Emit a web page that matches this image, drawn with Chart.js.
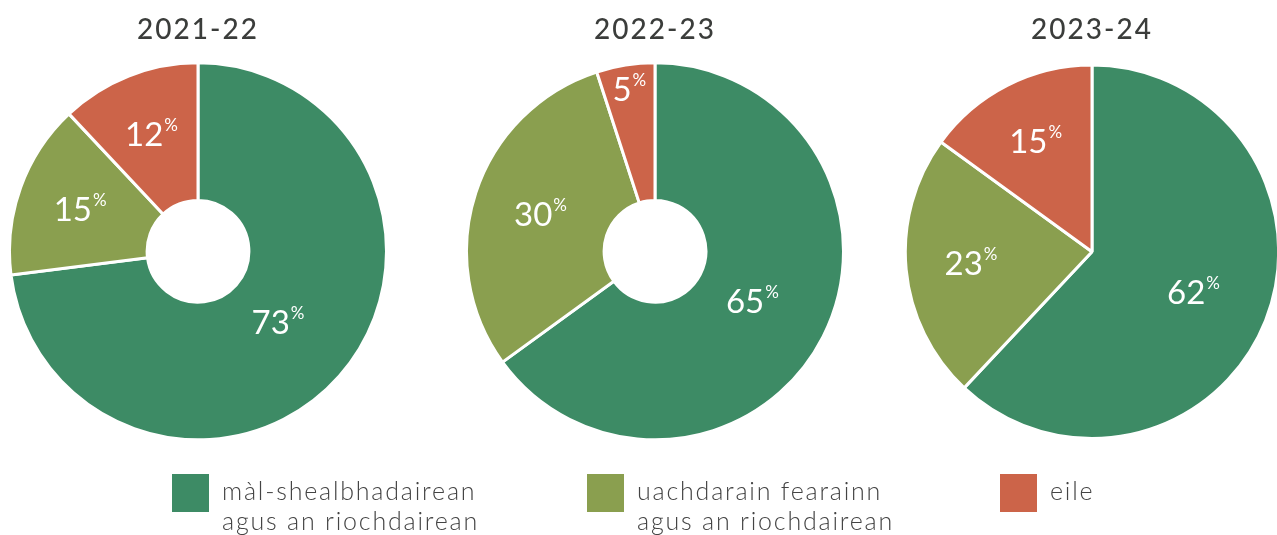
<!DOCTYPE html>
<html>
<head>
<meta charset="utf-8">
<script src="https://cdn.jsdelivr.net/npm/chart.js@4/dist/chart.umd.min.js"></script>
<style>
  html, body { margin:0; padding:0; background:#ffffff; width:1277px; height:535px; overflow:hidden; }
  .box { position:absolute; top:0; width:380px; height:442px; }
  .legend { position:absolute; top:0; left:0; width:1277px; height:535px; pointer-events:none;
            font-family:"Lato","Open Sans",sans-serif; font-weight:300; font-size:25px; color:#444444; }
  .sw { position:absolute; width:37px; height:38px; }
  .lt { position:absolute; line-height:30px; white-space:nowrap; letter-spacing:1.8px; }
</style>
</head>
<body>
<div class="box" id="b0" style="left:8px"><canvas id="c0"></canvas></div>
<div class="box" id="b1" style="left:465px"><canvas id="c1"></canvas></div>
<div class="box" id="b2" style="left:902px"><canvas id="c2"></canvas></div>
<div class="legend" id="legend"></div>
<script>
// ---- data ----
const periods = ["2021-22", "2022-23", "2023-24"];
const categories = [
  ["màl-shealbhadairean", "agus an riochdairean"],
  ["uachdarain fearainn", "agus an riochdairean"],
  ["eile"]
];
const values2122 = [73, 15, 12];
const values2223 = [65, 30, 5];
const values2324 = [62, 23, 15];
const colours = ["#3d8b65", "#8a9f4f", "#cc6449"];
const cutouts = ["27%", "27%", "0%"];

const allValues = [values2122, values2223, values2324];

const spacingPlugin = {
  id: 'titleSpacing',
  beforeDraw(chart) { chart.ctx.letterSpacing = '2px'; },
  beforeDatasetsDraw(chart) { chart.ctx.letterSpacing = '0px'; }
};

const labelPlugin = {
  id: 'sliceLabels',
  afterDatasetsDraw(chart) {
    const ctx = chart.ctx;
    const meta = chart.getDatasetMeta(0);
    const data = chart.data.datasets[0].data;
    const total = data.reduce((a, b) => a + b, 0);
    meta.data.forEach((arc, i) => {
      const p = arc.getProps(['x', 'y', 'startAngle', 'endAngle', 'outerRadius'], true);
      const mid = (p.startAngle + p.endAngle) / 2;
      const share = data[i] / total;
      const frac = share < 0.08 ? 0.87 : 0.69 - 0.17 * share;
      const r = p.outerRadius * frac;
      const x = p.x + Math.cos(mid) * r;
      const y = p.y + Math.sin(mid) * r;
      const num = String(data[i]);
      ctx.save();
      ctx.letterSpacing = '0px';
      ctx.fillStyle = '#ffffff';
      ctx.textBaseline = 'alphabetic';
      ctx.font = '400 33px Lato, "Open Sans", sans-serif';
      const w1 = ctx.measureText(num).width;
      ctx.font = '400 17px Lato, "Open Sans", sans-serif';
      const w2 = ctx.measureText('%').width;
      const tw = w1 + w2 + 1;
      const x0 = x - tw / 2;
      ctx.font = '400 33px Lato, "Open Sans", sans-serif';
      ctx.textAlign = 'left';
      ctx.fillText(num, x0, y + 12);
      ctx.font = '400 17px Lato, "Open Sans", sans-serif';
      ctx.fillText('%', x0 + w1 + 1, y - 3);
      ctx.restore();
    });
  }
};

periods.forEach((title, k) => {
  new Chart(document.getElementById('c' + k), {
    type: 'doughnut',
    data: {
      labels: categories.map(c => c.join(' ')),
      datasets: [{
        data: allValues[k],
        backgroundColor: colours,
        borderColor: '#ffffff',
        borderWidth: 3,
        hoverOffset: 0
      }]
    },
    options: {
      responsive: true,
      maintainAspectRatio: false,
      animation: false,
      cutout: cutouts[k],
      rotation: 0,
      layout: { padding: { top: 0, bottom: k === 2 ? 2 : 0, left: 0, right: 0 } },
      plugins: {
        legend: { display: false },
        tooltip: { enabled: false },
        title: {
          display: true,
          text: title,
          color: '#3b3d3b',
          font: { family: 'Lato, "Open Sans", sans-serif', size: 28, weight: '500' },
          padding: { top: 13, bottom: k === 2 ? 17 : 14 }
        }
      }
    },
    plugins: [spacingPlugin, labelPlugin]
  });
});

// ---- legend (HTML, built from data) ----
const legend = document.getElementById('legend');
const swX = [172, 587, 1000];
categories.forEach((lines, i) => {
  const sw = document.createElement('div');
  sw.className = 'sw';
  sw.style.left = swX[i] + 'px';
  sw.style.top = '474px';
  sw.style.background = colours[i];
  legend.appendChild(sw);
  const t = document.createElement('div');
  t.className = 'lt';
  t.style.left = (swX[i] + 50) + 'px';
  t.style.top = '475px';
  t.innerHTML = lines.join('<br>');
  legend.appendChild(t);
});
</script>
</body>
</html>
